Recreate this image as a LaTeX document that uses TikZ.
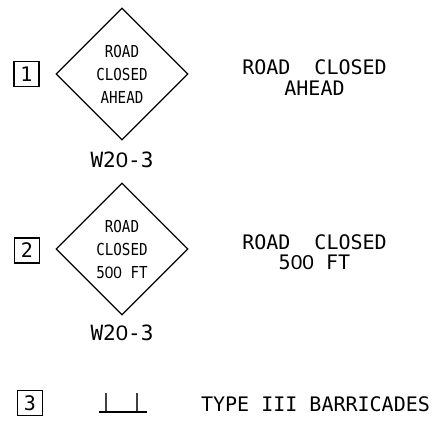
\documentclass[tikz,border=0pt]{standalone}
\usepackage{fontspec}
\setmainfont{Liberation Sans}
\newfontfamily\signfont[FakeStretch=0.86]{DejaVu Sans Mono}
\newfontfamily\legendfont{DejaVu Sans Mono}
\newfontfamily\zerosign[FakeStretch=0.93]{Liberation Sans}
\newfontfamily\zerocode[FakeStretch=1.05]{Liberation Sans}
\newcommand{\signzero}{{\zerosign 0}}
\newcommand{\codezero}{{\zerocode 0}}
\usetikzlibrary{shapes.geometric}
\tikzset{
  signbox/.style={draw=black,line width=1.3pt,diamond,aspect=1,minimum width=132pt,minimum height=132pt,inner sep=0pt},
  signlines/.style={inner sep=0pt,align=center,font=\signfont\fontsize{16.5pt}{23pt}\selectfont},
  numbox/.style={draw=black,line width=1.4pt,minimum width=25pt,minimum height=25pt,inner sep=0pt,font=\legendfont\fontsize{20pt}{20pt}\selectfont},
  legend/.style={inner sep=0pt,align=center,font=\legendfont\fontsize{20pt}{20.5pt}\selectfont},
  code/.style={inner sep=0pt,font=\legendfont\fontsize{21pt}{21pt}\selectfont},
  baseline rule/.style={draw=black,line width=1.6pt},
  postline/.style={draw=black!75,line width=1.6pt}
}
\begin{document}
\begin{tikzpicture}[x=1pt,y=-1pt]
\useasboundingbox (0,0) rectangle (437,423);
\node[numbox] (n1) at (26.5,74) {1};
\node[signbox] (s1) at (122,74) {};
\node[signlines] (t1) at (122,74.5) {ROAD\\CLOSED\\AHEAD};
\node[legend] (l1) at (314.5,77.5) {ROAD\ \ CLOSED\\AHEAD};
\node[code] (c1) at (122,160) {W2\codezero-3};
\node[numbox] (n2) at (27,250.5) {2};
\node[signbox] (s2) at (122,249) {};
\node[signlines] (t2) at (122,249.5) {ROAD\\CLOSED\\5\signzero\signzero\ FT};
\node[legend] (l2) at (314.5,252) {ROAD\ \ CLOSED\\5\codezero\codezero\ FT};
\node[code] (c2) at (122,333) {W2\codezero-3};
\node[numbox] (n3) at (30,403) {3};
\coordinate (b1) at (99,412);
\coordinate (b2) at (147,412);
\coordinate (p1) at (106,393);
\coordinate (q1) at (106,412);
\coordinate (p2) at (137,393);
\coordinate (q2) at (137,412);
\draw[postline] (p1) -- (q1);
\draw[postline] (p2) -- (q2);
\draw[baseline rule] (b1) -- (b2);
\node[legend] (l3) at (315.5,404) {TYPE III BARRICADES};
\end{tikzpicture}
\end{document}
